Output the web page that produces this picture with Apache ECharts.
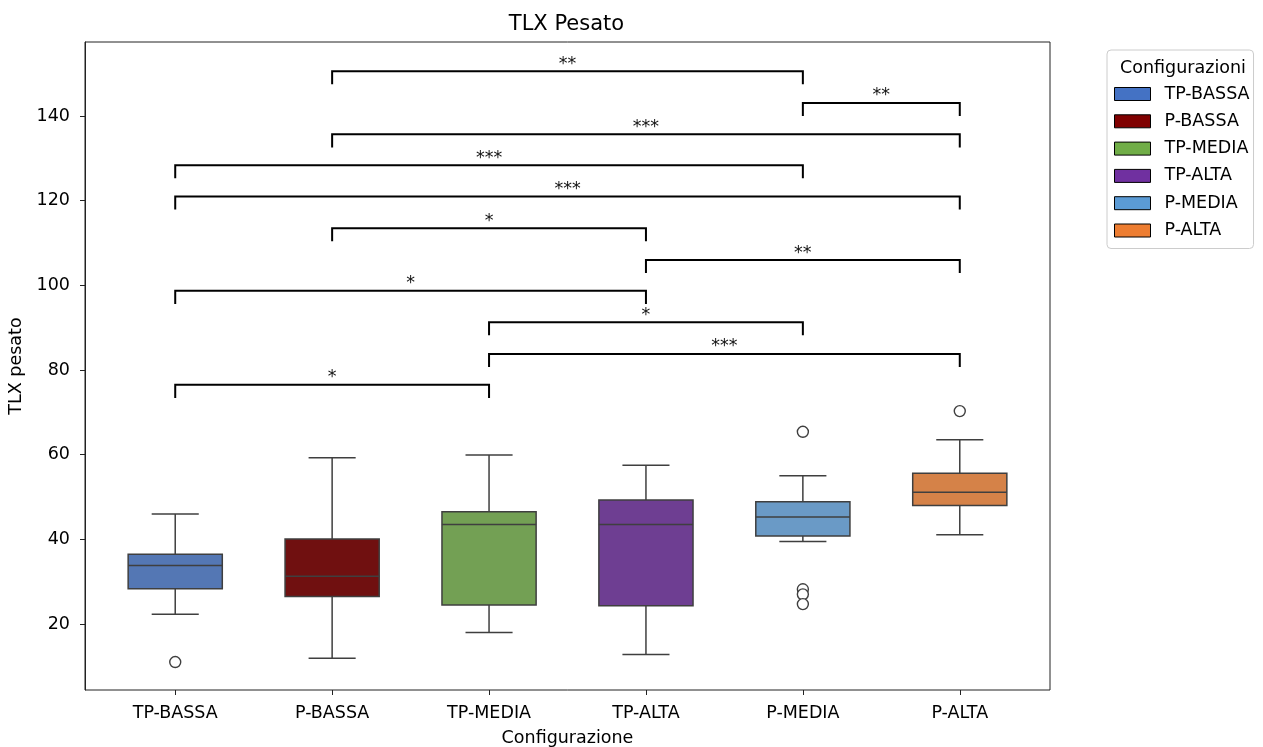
<!DOCTYPE html>
<html><head><meta charset="utf-8">
<script src="https://cdn.jsdelivr.net/npm/echarts@6/dist/echarts.min.js"></script>
<style>html,body{margin:0;padding:0;background:#fff}#c{width:1263px;height:747px}</style>
</head><body><div id="c"></div>
<script>
const categories = ['TP-BASSA','P-BASSA','TP-MEDIA','TP-ALTA','P-MEDIA','P-ALTA'];
const whiskerLow  = [22.3, 11.9, 18.0, 12.8, 39.5, 41.1];
const q1          = [28.3, 26.5, 24.5, 24.3, 40.8, 48.0];
const median      = [33.8, 31.3, 43.5, 43.5, 45.3, 51.1];
const q3          = [36.5, 40.1, 46.5, 49.3, 48.9, 55.6];
const whiskerHigh = [46.0, 59.3, 59.9, 57.5, 55.0, 63.5];
const outlierCategory = [0, 4, 4, 4, 4, 5];
const outlierValue    = [11.0, 65.4, 28.2, 27.0, 24.7, 70.3];
const bracketFrom  = [1, 4, 1, 0, 0, 1, 3, 0, 2, 2, 0];
const bracketTo    = [4, 5, 5, 4, 5, 3, 5, 3, 4, 5, 2];
const bracketY     = [150.6, 143.1, 135.7, 128.4, 121.0, 113.5, 106.0, 98.7, 91.3, 83.8, 76.5];
const bracketLabel = ['**','**','***','***','***','*','**','*','*','***','*'];
const yTicks = [20, 40, 60, 80, 100, 120, 140];
const xTicks = [0, 1, 2, 3, 4, 5];

const boxColors    = ['#5477B4', '#701010', '#73A054', '#6E3E92', '#6A9AC6', '#D58248'];
const legendColors = ['#4472C4', '#800000', '#70AD47', '#7030A0', '#5B9BD5', '#ED7D31'];
const edge = '#3f3f3f';
const FONT = 'DejaVu Sans';
const FS = 17.5;

const boxData = categories.map((c, i) => [i, whiskerLow[i], q1[i], median[i], q3[i], whiskerHigh[i]]);
const outlierData = outlierCategory.map((c, i) => [c, outlierValue[i]]);
const bracketData = bracketFrom.map((f, i) => [f, bracketTo[i], bracketY[i], i]);

function renderBox(params, api) {
  const i = api.value(0);
  const half = api.size([0.3, 0])[0];
  const capHalf = half / 2;
  const cx = api.coord([i, 0])[0];
  const y = v => api.coord([i, v])[1];
  const yLo = y(api.value(1)), yQ1 = y(api.value(2)), yMed = y(api.value(3)), yQ3 = y(api.value(4)), yHi = y(api.value(5));
  const ls = { stroke: edge, lineWidth: 1.5 };
  return { type: 'group', children: [
    { type: 'line', shape: { x1: cx, y1: yQ1, x2: cx, y2: yLo }, style: ls },
    { type: 'line', shape: { x1: cx, y1: yQ3, x2: cx, y2: yHi }, style: ls },
    { type: 'line', shape: { x1: cx - capHalf, y1: yLo, x2: cx + capHalf, y2: yLo }, style: ls },
    { type: 'line', shape: { x1: cx - capHalf, y1: yHi, x2: cx + capHalf, y2: yHi }, style: ls },
    { type: 'rect', shape: { x: cx - half, y: yQ3, width: 2 * half, height: yQ1 - yQ3 },
      style: { fill: boxColors[params.dataIndex], stroke: edge, lineWidth: 1.5 } },
    { type: 'line', shape: { x1: cx - half, y1: yMed, x2: cx + half, y2: yMed }, style: ls }
  ]};
}

function renderBracket(params, api) {
  const x1 = api.value(0), x2 = api.value(1), yv = api.value(2);
  const h = 3.1;
  const p1 = api.coord([x1, yv - h]), p2 = api.coord([x1, yv]), p3 = api.coord([x2, yv]), p4 = api.coord([x2, yv - h]);
  return { type: 'group', children: [
    { type: 'polyline', shape: { points: [p1, p2, p3, p4] }, style: { stroke: '#000', lineWidth: 2, fill: null } },
    { type: 'text', x: (p2[0] + p3[0]) / 2, y: p2[1] - 7,
      style: { text: bracketLabel[api.value(3)], align: 'center', verticalAlign: 'middle', fill: '#111', font: FS + 'px ' + FONT } }
  ]};
}

const chart = echarts.init(document.getElementById('c'), null, { renderer: 'canvas' });
const option = {
  animation: false,
  backgroundColor: '#fff',
  textStyle: { fontFamily: FONT },
  grid: { left: 85, top: 42, width: 965, height: 648, show: true, borderColor: '#222', borderWidth: 1,
          outerBoundsMode: 'none', containLabel: false },
  xAxis: {
    type: 'value', min: -0.575, max: 5.575,
    name: 'Configurazione', nameLocation: 'middle', nameGap: 39,
    nameTextStyle: { fontSize: FS, color: '#000', fontFamily: FONT },
    axisLine: { show: false },
    splitLine: { show: false },
    axisTick: { show: true, length: 5, customValues: xTicks, lineStyle: { color: '#222' } },
    axisLabel: { customValues: xTicks, formatter: v => categories[Math.round(v)], margin: 14, fontSize: FS, color: '#000', fontFamily: FONT }
  },
  yAxis: {
    type: 'value', min: 4.4, max: 157.5,
    name: 'TLX pesato', nameLocation: 'middle', nameGap: 55,
    nameTextStyle: { fontSize: FS, color: '#000', fontFamily: FONT },
    axisLine: { show: true, onZero: false, lineStyle: { color: '#222' } },
    splitLine: { show: false },
    axisTick: { show: true, length: 5, customValues: yTicks, lineStyle: { color: '#222' } },
    axisLabel: { customValues: yTicks, margin: 15, fontSize: FS, color: '#000', fontFamily: FONT }
  },
  legend: {
    orient: 'vertical', left: 1107, top: 50,
    data: categories.map(c => ({ name: c, icon: 'rect' })),
    itemWidth: 36, itemHeight: 13, itemGap: 9.3,
    padding: [35, 4, 9, 7],
    borderColor: '#cccccc', borderWidth: 1, borderRadius: 4,
    textStyle: { fontSize: FS, color: '#000', fontFamily: FONT, padding: [0, 0, 0, 9] },
    itemStyle: { borderColor: '#000', borderWidth: 1, opacity: 1 },
    selectedMode: false
  },
  graphic: [
    { type: 'text', x: 566.5, y: 24.5, z: 100,
      style: { text: 'TLX Pesato', align: 'center', verticalAlign: 'middle', font: '21px ' + FONT, fill: '#000' } },
    { type: 'text', x: 1183, y: 68, z: 100,
      style: { text: 'Configurazioni', align: 'center', verticalAlign: 'middle', font: FS + 'px ' + FONT, fill: '#000' } }
  ],
  series: [
    { type: 'custom', name: 'boxes', renderItem: renderBox, data: boxData, encode: { x: 0, y: [1, 2, 3, 4, 5] }, z: 2 },
    { type: 'scatter', name: 'outliers', data: outlierData, symbol: 'circle', symbolSize: 11,
      itemStyle: { color: '#fff', borderColor: edge, borderWidth: 1.4, opacity: 1 }, z: 3 },
    { type: 'custom', name: 'brackets', renderItem: renderBracket, data: bracketData, encode: { x: [0, 1], y: 2 }, z: 4 }
  ].concat(categories.map((c, i) => ({ type: 'scatter', name: c, data: [], itemStyle: { color: legendColors[i], opacity: 1 } })))
};
chart.setOption(option);
</script>
</body></html>
